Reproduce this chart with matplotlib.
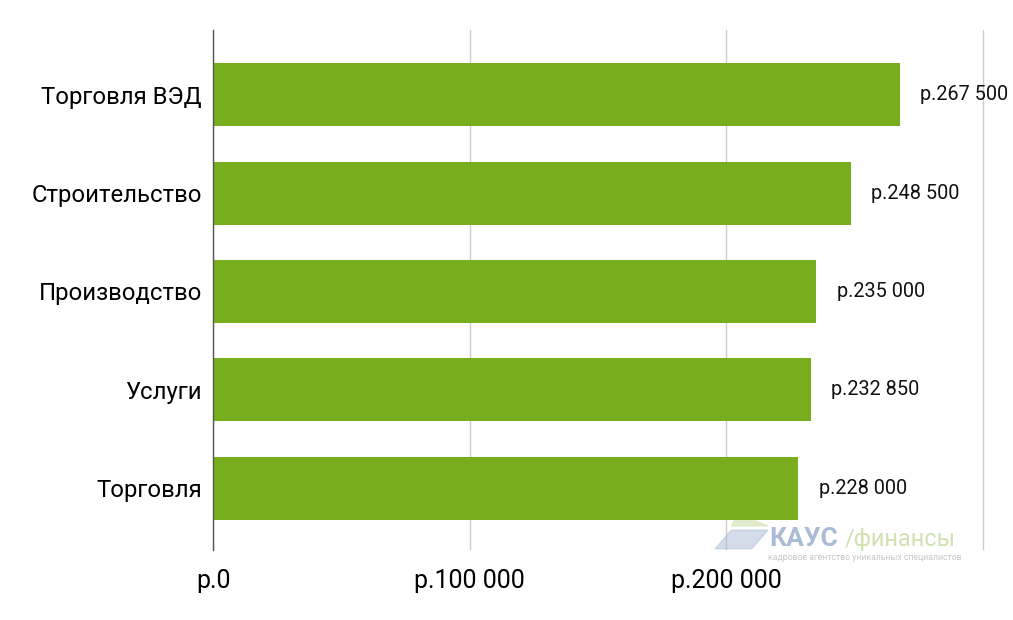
import matplotlib.pyplot as plt
from matplotlib.patches import Polygon

plt.rcParams['font.family'] = ['Roboto', 'DejaVu Sans']

categories = ['Торговля ВЭД', 'Строительство', 'Производство', 'Услуги', 'Торговля']
salaries = [267500, 248500, 235000, 232850, 228000]
tick_values = [0, 100000, 200000, 300000]
tick_labels = ['р.0', 'р.100 000', 'р.200 000', '']


def rub(v):
    return 'р.' + f'{v:,}'.replace(',', ' ')


fig = plt.figure(figsize=(10.13, 6.2), dpi=100)
ax = fig.add_axes([213 / 1013, 1 - 550 / 620, 772 / 1013, 520 / 620])

y = list(range(len(categories)))
ax.barh(y, salaries, height=0.64, color='#78AD1E', zorder=2)
for yi, v in zip(y, salaries):
    ax.text(v + 8000, yi, rub(v), va='center', ha='left', fontsize=14.3, color='#111111')

ax.set_xlim(0, 300800)
ax.set_ylim(4.63, -0.66)
ax.set_yticks(y)
ax.set_yticklabels(categories, fontsize=17.2)
ax.set_xticks(tick_values)
ax.set_xticklabels(tick_labels, fontsize=18)
ax.tick_params(axis='both', length=0)
ax.tick_params(axis='y', pad=8)
ax.tick_params(axis='x', pad=14)

ax.grid(axis='x', color='#cccccc', linewidth=1, zorder=0)
for s in ['top', 'right', 'bottom']:
    ax.spines[s].set_visible(False)
ax.spines['left'].set_color('#555555')
ax.spines['left'].set_linewidth(1)
ax.spines['left'].set_zorder(3)

# watermark
fig.patches.append(Polygon([[0.706, 0.115], [0.742, 0.115], [0.758, 0.145], [0.722, 0.145]],
                           closed=True, transform=fig.transFigure, color='#aabbd6', alpha=0.5, zorder=5))
fig.patches.append(Polygon([[0.722, 0.152], [0.758, 0.152], [0.745, 0.16], [0.725, 0.16]],
                           closed=True, transform=fig.transFigure, color='#cfe2b0', alpha=0.6, zorder=5))
fig.text(0.759, 0.13, 'КАУС', fontsize=19, fontweight='bold', color='#aabbd6', va='center')
fig.text(0.834, 0.13, '/финансы', fontsize=17, color='#cfe2b0', va='center')
fig.text(0.758, 0.1, 'кадровое агентство уникальных специалистов', fontsize=6.3, color='#c8c8c8', va='center')

fig.savefig('out.png', dpi=100)
